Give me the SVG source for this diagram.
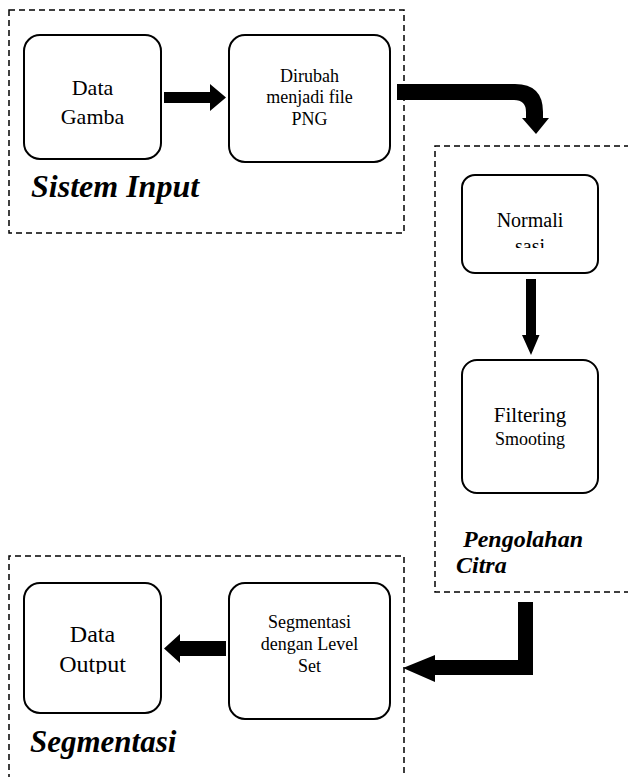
<svg xmlns="http://www.w3.org/2000/svg" width="628" height="777" viewBox="0 0 628 777">
<style>
.grp{fill:none;stroke:#000;stroke-width:1.5;stroke-dasharray:6,4}
.box{fill:#fff;stroke:#000;stroke-width:2}
text{font-family:'Liberation Serif','Times New Roman','DejaVu Serif',serif;fill:#000}
.t{text-anchor:middle}
.lbl{font-weight:bold;font-style:italic}
.arr{fill:#000;stroke:none}
</style>
<defs>
<clipPath id="clipN"><rect x="462" y="175" width="136" height="73"/></clipPath>
<clipPath id="clipO"><rect x="24" y="583" width="137" height="91"/></clipPath>
</defs>
<rect x="0" y="0" width="628" height="777" fill="#fff"/>

<g id="sistem-input">
<rect class="grp" x="9" y="10" width="395" height="223"/>
<text class="lbl" x="31" y="197" font-size="32" font-family="Liberation Serif, serif">Sistem Input</text>
</g>
<g id="pengolahan-citra">
<path class="grp" d="M640,146 H435 V592 H640"/>
<text class="lbl" x="463" y="547" font-size="24" font-family="Liberation Serif, serif">Pengolahan</text>
<text class="lbl" x="456" y="573" font-size="24" font-family="Liberation Serif, serif">Citra</text>
</g>
<g id="segmentasi">
<path class="grp" d="M9,790 V556 H404 V790"/>
<text class="lbl" x="30" y="752" font-size="31" font-family="Liberation Serif, serif">Segmentasi</text>
</g>

<g id="data-gamba" font-family="Liberation Serif, serif">
<rect class="box" x="24" y="35" width="137" height="124" rx="16"/>
<text class="t" x="92.5" y="95" font-size="22">Data</text>
<text class="t" x="92.5" y="124" font-size="22">Gamba</text>
</g>
<g id="dirubah" font-family="Liberation Serif, serif">
<rect class="box" x="229" y="35" width="161" height="127" rx="16"/>
<text class="t" x="309.5" y="82" font-size="18">Dirubah</text>
<text class="t" x="309.5" y="103" font-size="18">menjadi file</text>
<text class="t" x="309.5" y="125" font-size="18">PNG</text>
</g>
<g id="normalisasi" font-family="Liberation Serif, serif">
<rect class="box" x="462" y="175" width="136" height="98" rx="13"/>
<g clip-path="url(#clipN)">
<text class="t" x="530" y="227" font-size="20">Normali</text>
<text class="t" x="530" y="253" font-size="20">sasi</text>
</g>
</g>
<g id="filtering" font-family="Liberation Serif, serif">
<rect class="box" x="462" y="360" width="136" height="133" rx="15"/>
<text class="t" x="530" y="422" font-size="21">Filtering</text>
<text class="t" x="530" y="445" font-size="18">Smooting</text>
</g>
<g id="segmentasi-level-set" font-family="Liberation Serif, serif">
<rect class="box" x="229" y="583" width="161" height="136" rx="16"/>
<text class="t" x="309.5" y="628" font-size="18">Segmentasi</text>
<text class="t" x="309.5" y="650" font-size="18">dengan Level</text>
<text class="t" x="309.5" y="672" font-size="18">Set</text>
</g>
<g id="data-output" font-family="Liberation Serif, serif">
<rect class="box" x="24" y="583" width="137" height="130" rx="16"/>
<g clip-path="url(#clipO)">
<text class="t" x="92.5" y="642" font-size="24">Data</text>
<text class="t" x="92.5" y="672" font-size="24">Output</text>
</g>
</g>

<g id="connectors">
<path class="arr" d="M164,92 H210 V84 L226,97.5 L210,111 V103 H164 Z"/>
<path class="arr" d="M397,84 H515 Q543,84 543,112 V118 H549 L536,134 L522,118 H526 V112 Q526,100 514,100 H397 Z"/>
<path class="arr" d="M526,279 H536 V335 H539.5 L531,355 L522,335 H526 Z"/>
<path class="arr" d="M518,602 H533 V675 H435 V682 L403,668 L435,655 V660 H518 Z"/>
<path class="arr" d="M226,641 V656 H180 V663 L164,648.5 L180,634 V641 Z"/>
</g>
</svg>
